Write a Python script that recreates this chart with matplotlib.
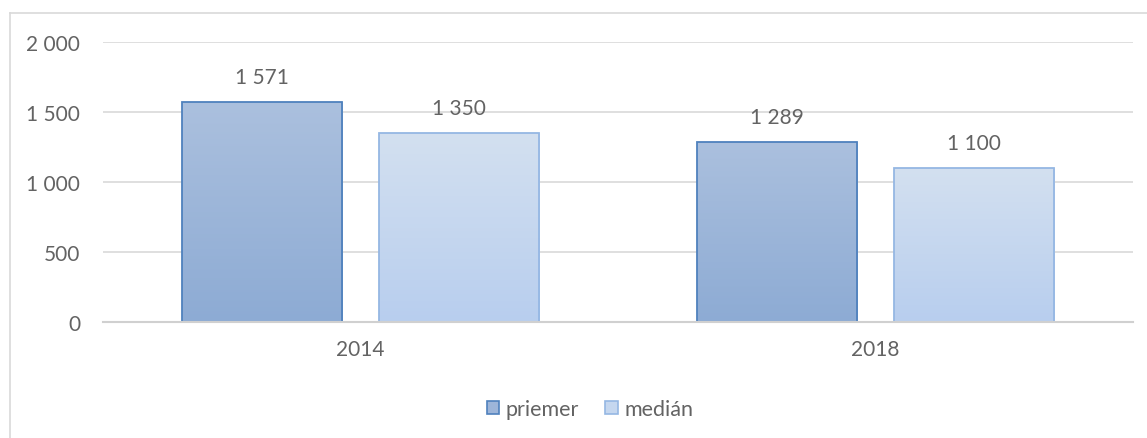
import numpy as np
import matplotlib
matplotlib.use("Agg")
import matplotlib.pyplot as plt
from matplotlib.patches import Patch
from matplotlib.colors import LinearSegmentedColormap
from matplotlib.lines import Line2D

categories = ["2014", "2018"]
series_names = ["priemer", "medián"]
priemer = [1571, 1289]
median = [1350, 1100]
yticks = [0, 500, 1000, 1500, 2000]
ytick_labels = ["0", "500", "1 000", "1 500", "2 000"]

plt.rcParams['font.family'] = ['Lato', 'DejaVu Sans']
TXT = "#636363"
FS = 15

W, H = 1147, 439
fig = plt.figure(figsize=(W / 100, H / 100), dpi=100)
ax = fig.add_axes([103 / W, (H - 323) / H, (1133 - 103) / W, (323 - 43) / H])

x = np.arange(len(categories))
width = 0.311
offset = 0.191

styles = [
    dict(top="#abc0de", bottom="#8dabd4", edge="#4f81bd"),
    dict(top="#d3e0f0", bottom="#b8ceee", edge="#95b7e3"),
]
values = [priemer, median]

grad = np.linspace(0, 1, 256).reshape(-1, 1)
for si, (vals, st) in enumerate(zip(values, styles)):
    pos = x + (-offset if si == 0 else offset)
    cmap = LinearSegmentedColormap.from_list("g%d" % si, [st["bottom"], st["top"]])
    bars = ax.bar(pos, vals, width, facecolor="none", edgecolor=st["edge"],
                  linewidth=1.3, zorder=3)
    for b, v in zip(bars, vals):
        x0 = b.get_x()
        im = ax.imshow(grad, cmap=cmap, origin="lower", aspect="auto",
                       extent=(x0, x0 + b.get_width(), 0, b.get_height()),
                       zorder=2)
        im.set_clip_path(b)
        ax.annotate(f"{v:,}".replace(",", " "), (b.get_x() + b.get_width() / 2, v),
                    xytext=(0, 18), textcoords="offset points", ha="center",
                    va="center", fontsize=FS, color=TXT)

ax.set_xlim(-0.5, 1.5)
ax.set_ylim(0, 2000)
ax.set_yticks(yticks)
ax.set_yticklabels(ytick_labels)
ax.set_xticks(x)
ax.set_xticklabels(categories)
ax.tick_params(axis="y", length=0, pad=16.5, labelsize=FS, labelcolor=TXT)
ax.tick_params(axis="x", length=0, pad=12, labelsize=FS, labelcolor=TXT)
ax.grid(axis="y", color="#d9d9d9", linewidth=1.2, zorder=0)
ax.set_axisbelow(True)
for s in ["top", "right", "left"]:
    ax.spines[s].set_visible(False)
ax.spines["bottom"].set_color("#d0d0d0")
ax.spines["bottom"].set_linewidth(1.5)
ax.spines["bottom"].set_zorder(4)

handles = [Patch(facecolor="#9db5d9", edgecolor=styles[0]["edge"], linewidth=1.2),
           Patch(facecolor="#c5d7ef", edgecolor=styles[1]["edge"], linewidth=1.2)]
leg = fig.legend(handles, series_names, loc="center", bbox_to_anchor=(590 / W, (H - 410) / H),
                 ncol=2, frameon=False, fontsize=15.5, labelcolor=TXT,
                 handlelength=0.6, handleheight=0.6, handletextpad=0.3,
                 columnspacing=1.2)

# chart border (left and top visible)
fig.add_artist(Line2D([10 / W, 10 / W], [0, (H - 14) / H], color="#d9d9d9", linewidth=1.2))
fig.add_artist(Line2D([10 / W, 1], [(H - 14) / H, (H - 14) / H], color="#d9d9d9", linewidth=1.2))

fig.savefig("out.png", dpi=100)
